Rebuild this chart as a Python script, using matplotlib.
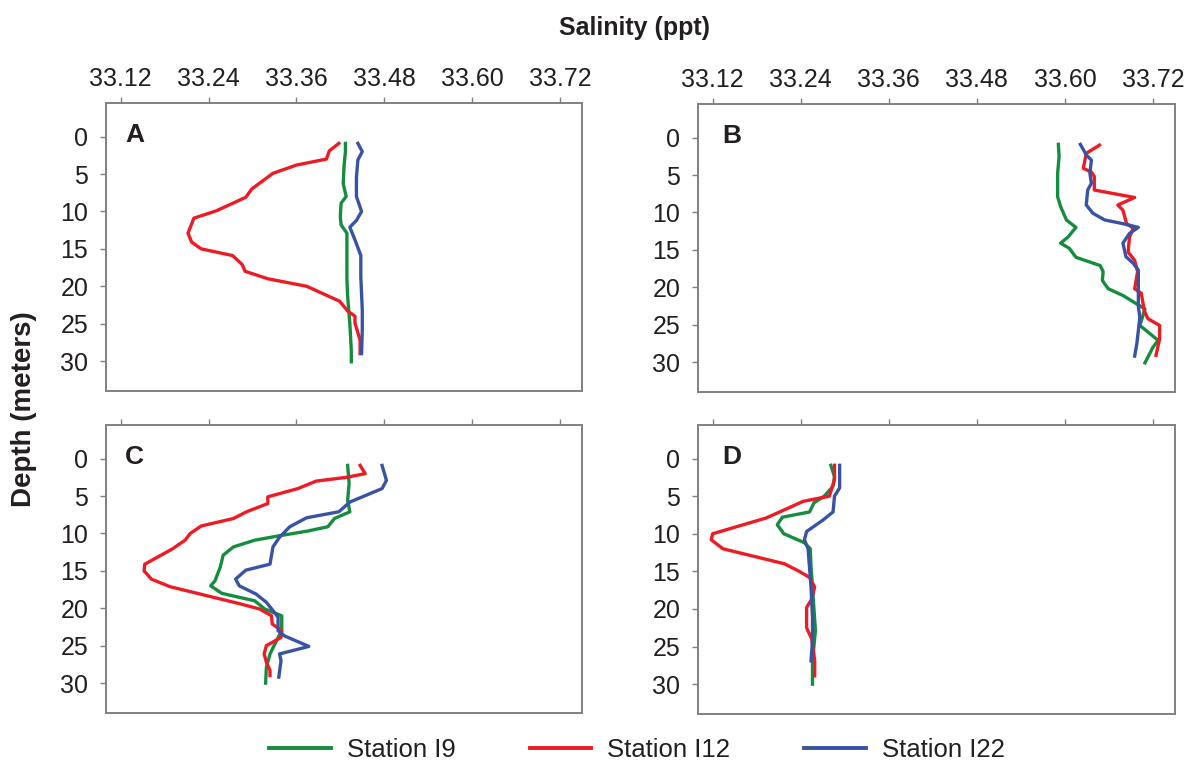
import matplotlib.pyplot as plt
from matplotlib.lines import Line2D

plt.rcParams["font.family"] = ["Liberation Sans", "DejaVu Sans"]

# Salinity profiles (ppt) vs depth (m)
# Panel A
a_i9_depth = [0.9, 2.0, 4.0, 6.3, 8.0, 8.9, 10.7, 11.8, 12.9, 16.1, 19.0, 21.4, 25.0, 28.6, 30.1]
a_i9_sal = [33.427, 33.427, 33.425, 33.424, 33.428, 33.421, 33.420, 33.421, 33.429, 33.429,
            33.429, 33.430, 33.433, 33.435, 33.435]
a_i12_depth = [0.9, 1.9, 3.0, 3.8, 4.9, 7.0, 8.1, 9.9, 10.9, 12.9, 14.1, 15.0, 15.9, 17.1,
               18.0, 19.0, 20.0, 22.0, 23.3, 24.0, 24.9, 27.2, 29.0]
a_i12_sal = [33.418, 33.405, 33.401, 33.360, 33.328, 33.299, 33.291, 33.251, 33.220, 33.212,
             33.217, 33.230, 33.273, 33.286, 33.290, 33.321, 33.374, 33.419, 33.430, 33.440,
             33.440, 33.447, 33.447]
a_i22_depth = [0.9, 2.0, 3.1, 5.4, 8.0, 10.0, 11.2, 12.1, 13.8, 15.9, 18.8, 23.2, 25.9, 29.0]
a_i22_sal = [33.444, 33.450, 33.444, 33.442, 33.442, 33.449, 33.442, 33.433, 33.440, 33.448,
             33.448, 33.450, 33.450, 33.449]

# Panel B
b_i9_depth = [0.9, 2.5, 4.8, 7.9, 9.2, 11.0, 12.0, 13.3, 14.1, 14.8, 16.0, 17.1, 17.9, 19.1,
              20.2, 21.1, 22.9, 24.2, 25.1, 27.1, 28.0, 30.1]
b_i9_sal = [33.591, 33.592, 33.590, 33.590, 33.594, 33.602, 33.615, 33.604, 33.594, 33.606,
            33.615, 33.648, 33.652, 33.651, 33.659, 33.679, 33.709, 33.705, 33.702, 33.727,
            33.720, 33.709]
b_i12_depth = [1.0, 2.1, 4.1, 4.6, 5.2, 7.0, 8.0, 9.0, 9.7, 11.5, 12.1, 13.3, 15.3, 16.4, 17.9,
               20.2, 20.8, 23.1, 24.2, 25.1, 26.9, 29.1]
b_i12_sal = [33.647, 33.629, 33.625, 33.636, 33.640, 33.640, 33.695, 33.672, 33.679, 33.684,
             33.693, 33.688, 33.686, 33.695, 33.699, 33.695, 33.704, 33.708, 33.713, 33.729,
             33.729, 33.724]
b_i22_depth = [0.9, 2.3, 3.0, 4.8, 6.1, 7.0, 9.0, 10.1, 11.0, 11.5, 12.0, 12.8, 14.1, 15.9, 16.8,
               17.7, 20.4, 22.6, 24.0, 25.8, 27.5, 29.2]
b_i22_sal = [33.621, 33.629, 33.636, 33.634, 33.636, 33.631, 33.629, 33.638, 33.654, 33.679,
             33.700, 33.688, 33.679, 33.683, 33.693, 33.700, 33.700, 33.700, 33.702, 33.700,
             33.698, 33.695]

# Panel C
c_i9_depth = [0.9, 3.3, 5.6, 7.1, 8.0, 9.1, 9.7, 10.3, 10.9, 11.8, 12.9, 14.5, 16.3, 17.0, 18.0,
              19.0, 20.1, 21.0, 23.0, 24.3, 26.1, 27.9, 30.0]
c_i9_sal = [33.430, 33.432, 33.430, 33.433, 33.412, 33.403, 33.374, 33.337, 33.303, 33.274,
            33.260, 33.256, 33.249, 33.243, 33.258, 33.303, 33.317, 33.340, 33.340, 33.333,
            33.324, 33.319, 33.318]
c_i12_depth = [0.9, 2.0, 2.5, 3.0, 4.0, 5.1, 6.0, 7.1, 8.0, 9.0, 10.0, 10.9, 12.1, 14.1, 15.0,
               16.1, 17.1, 18.3, 19.4, 20.1, 21.0, 22.1, 23.0, 23.9, 25.0, 26.1, 27.2, 28.3, 29.0]
c_i12_sal = [33.447, 33.454, 33.428, 33.387, 33.362, 33.321, 33.321, 33.292, 33.274, 33.230,
             33.215, 33.208, 33.190, 33.153, 33.152, 33.162, 33.187, 33.237, 33.283, 33.310,
             33.326, 33.327, 33.340, 33.339, 33.319, 33.316, 33.319, 33.324, 33.324]
c_i22_depth = [0.9, 2.9, 4.0, 4.9, 5.8, 7.1, 7.9, 9.1, 10.5, 11.8, 14.1, 14.9, 16.1, 17.0, 18.1,
               19.2, 20.3, 21.2, 23.0, 23.7, 25.1, 26.1, 27.0, 29.2]
c_i22_sal = [33.477, 33.483, 33.477, 33.455, 33.433, 33.418, 33.374, 33.351, 33.337, 33.328,
             33.324, 33.291, 33.277, 33.282, 33.305, 33.319, 33.328, 33.335, 33.335, 33.344,
             33.377, 33.337, 33.339, 33.336]

# Panel D
d_i9_depth = [0.9, 2.4, 3.7, 5.0, 5.9, 7.1, 7.8, 8.8, 10.0, 11.2, 12.0, 14.4, 17.1, 22.9, 26.9, 30.0]
d_i9_sal = [33.281, 33.286, 33.284, 33.272, 33.258, 33.252, 33.215, 33.208, 33.217, 33.245,
            33.253, 33.254, 33.256, 33.260, 33.256, 33.256]
d_i12_depth = [0.9, 2.8, 5.0, 5.7, 6.5, 7.9, 10.0, 10.8, 12.0, 14.0, 14.9, 15.8, 17.1, 18.7,
               19.8, 22.5, 24.0, 26.9, 28.9]
d_i12_sal = [33.286, 33.286, 33.279, 33.243, 33.225, 33.193, 33.120, 33.118, 33.134, 33.218,
             33.236, 33.252, 33.259, 33.255, 33.248, 33.248, 33.255, 33.259, 33.259]
d_i22_depth = [0.9, 3.9, 5.0, 7.1, 8.2, 9.7, 10.8, 12.0, 17.1, 21.1, 24.2, 26.9]
d_i22_sal = [33.293, 33.293, 33.286, 33.284, 33.270, 33.248, 33.245, 33.250, 33.254, 33.256,
             33.256, 33.254]

panels = ["A", "B", "C", "D"]
profiles = {
    "A": [(a_i9_sal, a_i9_depth), (a_i12_sal, a_i12_depth), (a_i22_sal, a_i22_depth)],
    "B": [(b_i9_sal, b_i9_depth), (b_i12_sal, b_i12_depth), (b_i22_sal, b_i22_depth)],
    "C": [(c_i9_sal, c_i9_depth), (c_i12_sal, c_i12_depth), (c_i22_sal, c_i22_depth)],
    "D": [(d_i9_sal, d_i9_depth), (d_i12_sal, d_i12_depth), (d_i22_sal, d_i22_depth)],
}
stations = ["Station I9", "Station I12", "Station I22"]
colors = ["#168c3f", "#ed1c24", "#3953a4"]

x_ticks = [33.12, 33.24, 33.36, 33.48, 33.60, 33.72]
x_labels = ["33.12", "33.24", "33.36", "33.48", "33.60", "33.72"]
y_ticks = [0, 5, 10, 15, 20, 25, 30]

fig = plt.figure(figsize=(11.95, 7.68), dpi=100)

rects = {
    "A": [0.0887, 0.4909, 0.3983, 0.375],
    "B": [0.5841, 0.4896, 0.3992, 0.375],
    "C": [0.0887, 0.0716, 0.3983, 0.375],
    "D": [0.5841, 0.0700, 0.3992, 0.377],
}
label_x = {"A": 0.04, "B": 0.05, "C": 0.04, "D": 0.05}

spine_col = "#808080"
text_col = "#231f20"

for p in panels:
    ax = fig.add_axes(rects[p])
    for (sal, dep), c in zip(profiles[p], colors):
        ax.plot(sal, dep, color=c, lw=2.4, solid_joinstyle="round")
    ax.set_xlim(33.10, 33.75)
    ax.set_ylim(34.0, -4.5)
    ax.xaxis.tick_top()
    ax.set_xticks(x_ticks)
    ax.set_yticks(y_ticks)
    if p in ("A", "B"):
        ax.set_xticklabels(x_labels)
    else:
        ax.set_xticklabels([])
    ax.tick_params(axis="both", direction="out", length=4.3, width=1, color=spine_col,
                   labelcolor=text_col, labelsize=18)
    ax.tick_params(axis="x", pad=4.5)
    ax.tick_params(axis="y", pad=8.5)
    for s in ax.spines.values():
        s.set_color(spine_col)
        s.set_linewidth(1.4)
    ax.text(label_x[p], 0.93, p, transform=ax.transAxes, fontsize=19, fontweight="bold",
            color=text_col, va="top", ha="left")

fig.text(0.531, 0.964, "Salinity (ppt)", fontsize=18, fontweight="bold", color=text_col,
         ha="center", va="center")
fig.text(0.020, 0.467, "Depth (meters)", fontsize=20, fontweight="bold", color=text_col,
         ha="center", va="center", rotation=90)

handles = [Line2D([], [], color=c, lw=2.8) for c in colors]
fig.legend(handles, stations, loc="center", bbox_to_anchor=(0.533, 0.023), ncol=3,
           frameon=False, fontsize=18.5, handlelength=2.4, handletextpad=0.6,
           columnspacing=2.9, labelcolor=text_col)

plt.savefig("out.png", dpi=100)
